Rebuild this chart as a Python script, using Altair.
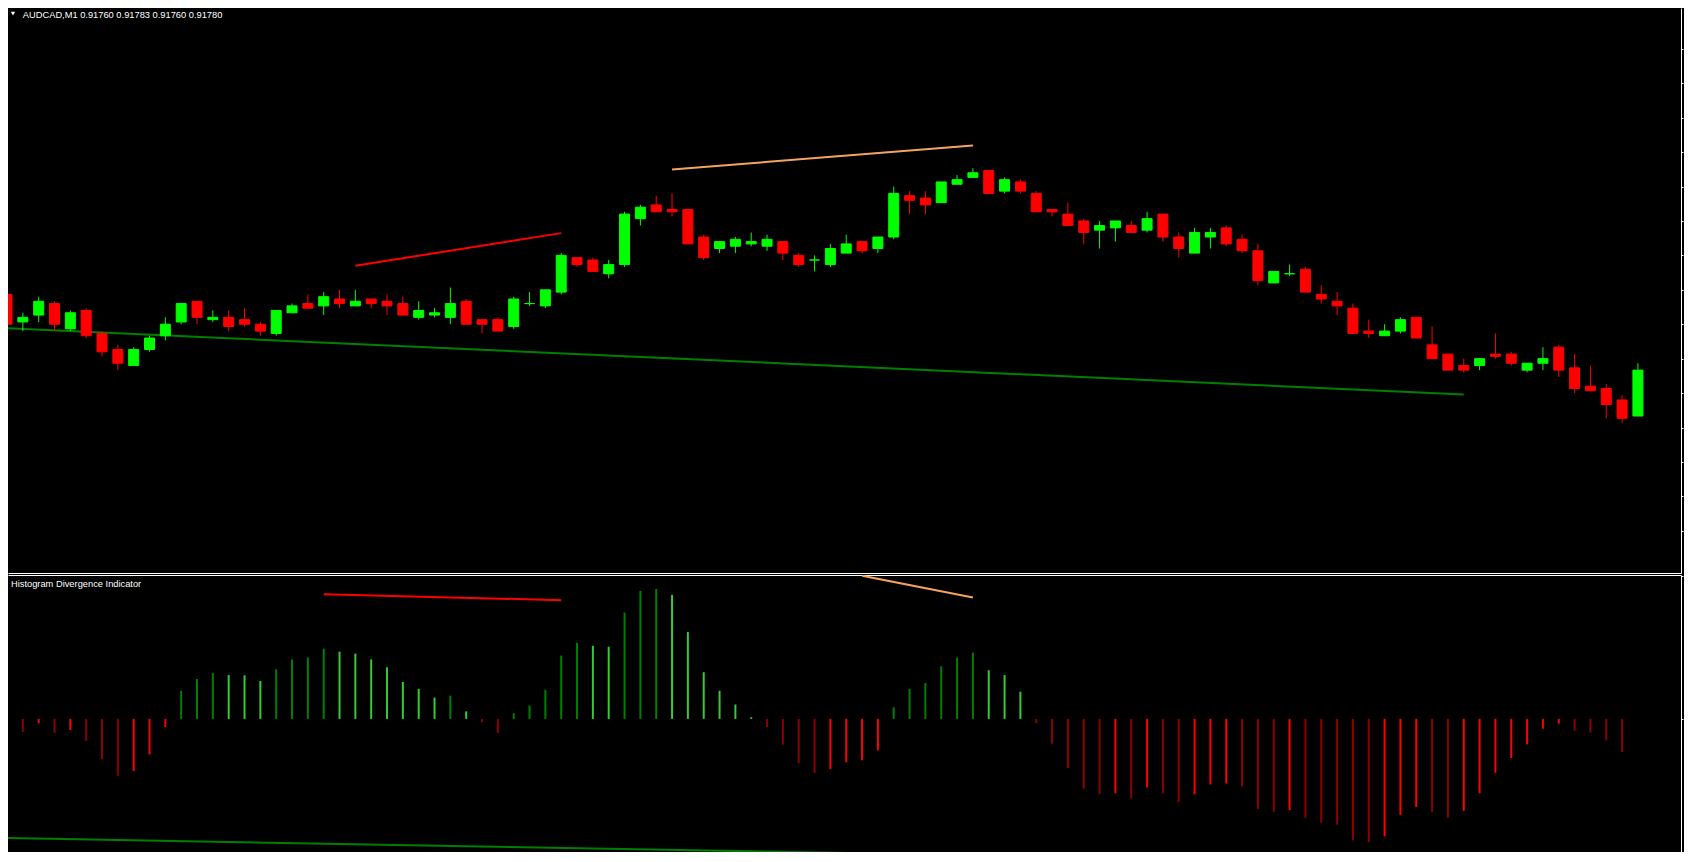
import altair as alt
import pandas as pd

# ---------------- data ----------------
SYMBOL_TITLE = "AUDCAD,M1  0.91760 0.91783 0.91760 0.91780"
INDICATOR_TITLE = "Histogram Divergence Indicator"

BASE_PRICE = 0.91760      # open of the last bar (title)
POINT = 0.00001

FIRST_BAR = -1            # first (partly visible) candle index

OPEN_PTS = [53, 41, 44, 49, 38, 46, 36, 29, 22, 29,
            35, 41, 50, 42, 43, 42, 40, 36, 45, 49,
            48, 51, 48, 51, 50, 49, 43, 44, 43, 50,
            42, 42, 39, 49, 48, 54, 69, 68, 62, 66,
            86, 92, 90, 90, 78, 73, 74, 75, 74, 76,
            70, 68, 66, 71, 76, 73, 78, 96, 95, 93,
            101, 104, 107, 98, 102, 97, 90, 88, 85, 81,
            82, 83, 81, 88, 78, 71, 78, 82, 77, 72,
            58, 62, 64, 53, 50, 47, 37, 35, 37, 43,
            31, 27, 22, 22, 27, 27, 20, 23, 30, 21,
            13, 12, 7, 0]
HIGH_PTS = [53, 45, 52, 50, 46, 47, 37, 31, 30, 35,
            43, 49, 50, 46, 46, 47, 41, 46, 49, 53,
            54, 55, 55, 51, 53, 52, 50, 47, 56, 51,
            42, 43, 52, 54, 55, 71, 69, 69, 68, 89,
            92, 96, 97, 90, 79, 76, 78, 80, 79, 76,
            71, 70, 75, 79, 76, 78, 100, 98, 98, 102,
            105, 108, 107, 104, 103, 98, 90, 93, 86, 85,
            85, 85, 89, 88, 80, 82, 82, 83, 79, 75,
            63, 66, 65, 57, 54, 49, 42, 40, 43, 43,
            39, 27, 25, 25, 36, 28, 23, 30, 31, 27,
            22, 14, 9, 23]
LOW_PTS = [40, 37, 41, 37, 37, 34, 26, 20, 22, 28,
           33, 40, 40, 41, 37, 39, 35, 35, 45, 47,
           44, 47, 48, 47, 44, 44, 42, 43, 40, 40,
           36, 37, 38, 48, 47, 53, 65, 63, 60, 65,
           83, 89, 87, 75, 68, 71, 71, 74, 72, 68,
           65, 63, 65, 71, 71, 71, 77, 88, 88, 93,
           101, 104, 97, 97, 97, 89, 87, 83, 75, 73,
           76, 80, 80, 76, 69, 71, 73, 74, 71, 57,
           58, 61, 54, 49, 44, 36, 34, 35, 36, 34,
           25, 20, 19, 20, 25, 22, 19, 20, 17, 10,
           11, -1, -3, 0]
CLOSE_PTS = [40, 43, 50, 40, 45, 35, 28, 23, 29, 34,
             40, 49, 43, 43, 39, 40, 37, 46, 48, 47,
             52, 49, 50, 49, 48, 44, 46, 45, 49, 40,
             40, 37, 51, 49, 55, 70, 66, 63, 66, 88,
             91, 89, 89, 75, 69, 76, 77, 76, 77, 71,
             66, 68, 73, 75, 72, 78, 97, 94, 92, 102,
             103, 106, 97, 103, 98, 89, 89, 83, 80, 83,
             85, 80, 86, 78, 73, 80, 80, 75, 72, 59,
             63, 62, 54, 51, 48, 36, 36, 37, 42, 34,
             25, 20, 20, 25, 26, 23, 23, 25, 20, 12,
             11, 5, -1, 20]

# histogram (bars 0..101)
HIST_FIRST_BAR = 0
HIST_VALUES = [-13.3, -4.3, -14.3, -11.3, -22.3, -41.3, -58.3, -53.3, -36.3, -8.3,
               28.7, 40.7, 46.7, 44.7, 44.5, 38.7, 50.7, 60.7, 62.7, 71.7,
               68.7, 66.7, 60.7, 52.7, 37.7, 30.7, 21.7, 23.7, 7.7, -3.3,
               -14.3, 5.7, 13.7, 29.7, 64.7, 77.7, 74.7, 73.7, 108.7, 130.7,
               132.7, 126.7, 88.7, 47.7, 28.7, 14.7, 1.7, -8.3, -26.3, -45.3,
               -55.3, -51.3, -44.3, -42.3, -32.3, 11.7, 30.7, 36.7, 53.7, 62.7,
               67.7, 49.7, 44.7, 27.7, -4.3, -25.3, -50.3, -71.3, -77.0, -76.0,
               -81.0, -70.0, -76.0, -85.0, -77.0, -67.0, -66.0, -69.0, -92.0, -95.0,
               -93.0, -101.0, -106.0, -108.0, -124.0, -126.0, -120.0, -98.0, -90.0, -95.0,
               -101.0, -94.0, -76.0, -55.0, -40.0, -26.0, -10.0, -5.0, -12.0, -14.0,
               -22.0, -34.0]

# trend lines on the price chart (bar index, points above BASE_PRICE)
RED_LINE_BARS = [21, 34]
RED_LINE_PTS = [65.5, 79.7]
ORANGE_LINE_BARS = [41, 60]
ORANGE_LINE_PTS = [107.4, 117.9]
GREEN_LINE_BARS = [-1, 91]
GREEN_LINE_PTS = [38.3, 9.4]

# trend lines on the indicator
HIST_RED_BARS = [19, 34]
HIST_RED_VALUES = [127.3, 121.3]
HIST_ORANGE_BARS = [53, 60]
HIST_ORANGE_VALUES = [146.3, 124.0]
HIST_GREEN_BARS = [-1, 91]
HIST_GREEN_VALUES = [-121.7, -148.2]

PRICE_TICKS = [0.91710, 0.91725, 0.91740, 0.91755, 0.91770, 0.91785, 0.91800,
               0.91815, 0.91830, 0.91845, 0.91860, 0.91875, 0.91890, 0.91905, 0.91920]
HIST_TICKS = [0, 146]

# ---------------- layout / styles ----------------
PLOT_W = 1673
MAIN_H = 565
HIST_H = 277
SX = PLOT_W / 1690.5
SY = 845 / 862

X_DOMAIN = [-0.9375, 104.72]
PRICE_DOMAIN = [BASE_PRICE - 68.4 * POINT, BASE_PRICE + 177.8 * POINT]
HIST_DOMAIN = [-136, 147]

BULL = "#00ff00"
BEAR = "#ff0000"
WHITE = "#ffffff"

# ---------------- tables ----------------
n = len(OPEN_PTS)
bars = list(range(FIRST_BAR, FIRST_BAR + n))
candles = pd.DataFrame({
    "bar": bars,
    "open": [BASE_PRICE + v * POINT for v in OPEN_PTS],
    "high": [BASE_PRICE + v * POINT for v in HIGH_PTS],
    "low": [BASE_PRICE + v * POINT for v in LOW_PTS],
    "close": [BASE_PRICE + v * POINT for v in CLOSE_PTS],
})
candles["dir"] = ["up" if c >= o else "down" for o, c in zip(OPEN_PTS, CLOSE_PTS)]

states = []
prev = 0.0
for v in HIST_VALUES:
    if v >= 0:
        states.append("pos_up" if v > prev else "pos_down")
    else:
        states.append("neg_down" if v < prev else "neg_up")
    prev = v
hist = pd.DataFrame({
    "bar": list(range(HIST_FIRST_BAR, HIST_FIRST_BAR + len(HIST_VALUES))),
    "value": HIST_VALUES,
    "base": [0.0] * len(HIST_VALUES),
    "state": states,
})


def line_df(bars_, pts, to_price=False):
    vals = [BASE_PRICE + p * POINT for p in pts] if to_price else list(pts)
    return pd.DataFrame({"bar": bars_, "v": vals})


# ---------------- scales / axes ----------------
x_scale = alt.Scale(domain=X_DOMAIN, nice=False, zero=False, padding=0)
price_scale = alt.Scale(domain=PRICE_DOMAIN, nice=False, zero=False)
hist_scale = alt.Scale(domain=HIST_DOMAIN, nice=False, zero=False)

x_axis_main = alt.Axis(orient="bottom", domain=True, domainColor=WHITE, domainWidth=1,
                       ticks=False, labels=False, grid=False, title=None)
x_axis_hist = alt.Axis(orient="top", domain=True, domainColor=WHITE, domainWidth=1,
                       ticks=False, labels=False, grid=False, title=None)
y_axis_main = alt.Axis(orient="right", domain=True, domainColor=WHITE, domainWidth=1,
                       ticks=True, tickColor=WHITE, tickSize=2, tickWidth=1,
                       values=PRICE_TICKS, labels=False, grid=False, title=None)
y_axis_hist = alt.Axis(orient="right", domain=True, domainColor=WHITE, domainWidth=1,
                       ticks=True, tickColor=WHITE, tickSize=2, tickWidth=1,
                       values=HIST_TICKS, labels=False, grid=False, title=None)

X = alt.X("bar:Q", scale=x_scale, axis=x_axis_main)
XH = alt.X("bar:Q", scale=x_scale, axis=x_axis_hist)
dir_scale = alt.Scale(domain=["up", "down"], range=[BULL, BEAR])

# ---------------- price panel ----------------
wicks = alt.Chart(candles).mark_rule(strokeWidth=1, clip=True).encode(
    x=X,
    y=alt.Y("low:Q", scale=price_scale, axis=y_axis_main),
    y2="high:Q",
    color=alt.Color("dir:N", scale=dir_scale, legend=None),
)
bodies = alt.Chart(candles).mark_bar(size=10 * SX + 0.1, strokeWidth=1, clip=True).encode(
    x=X,
    y=alt.Y("open:Q", scale=price_scale, axis=y_axis_main),
    y2="close:Q",
    color=alt.Color("dir:N", scale=dir_scale, legend=None),
    stroke=alt.Stroke("dir:N", scale=dir_scale, legend=None),
)


def price_line(bars_, pts, color):
    return alt.Chart(line_df(bars_, pts, True)).mark_line(
        color=color, strokeWidth=2, clip=True).encode(
        x=X, y=alt.Y("v:Q", scale=price_scale, axis=y_axis_main))


red_line = price_line(RED_LINE_BARS, RED_LINE_PTS, "#ff0000")
orange_line = price_line(ORANGE_LINE_BARS, ORANGE_LINE_PTS, "#f4a460")
green_line = price_line(GREEN_LINE_BARS, GREEN_LINE_PTS, "#008000")

title_text = alt.Chart(pd.DataFrame({"t": [SYMBOL_TITLE]})).mark_text(
    align="left", baseline="alphabetic", font="Liberation Sans", fontSize=9.3,
    color=WHITE).encode(text="t:N", x=alt.value(15 * SX), y=alt.value(10.7 * SY))
triangle = alt.Chart(pd.DataFrame({"t": ["menu"]})).mark_point(
    shape="triangle-down", filled=True, color=WHITE, size=18, opacity=1).encode(
    x=alt.value(5), y=alt.value(5.8 * SY))

main = alt.layer(green_line, red_line, orange_line, wicks, bodies,
                 title_text, triangle).properties(width=PLOT_W, height=MAIN_H)

# ---------------- indicator panel ----------------
state_scale = alt.Scale(domain=["pos_up", "pos_down", "neg_down", "neg_up"],
                        range=["#008000", "#32cd32", "#8b0000", "#ff0000"])
hist_bars = alt.Chart(hist).mark_rule(strokeWidth=2, clip=True).encode(
    x=XH,
    y=alt.Y("base:Q", scale=hist_scale, axis=y_axis_hist),
    y2="value:Q",
    color=alt.Color("state:N", scale=state_scale, legend=None),
)


def hist_line(bars_, vals, color):
    return alt.Chart(line_df(bars_, vals)).mark_line(
        color=color, strokeWidth=2, clip=True).encode(
        x=XH, y=alt.Y("v:Q", scale=hist_scale, axis=y_axis_hist))


hist_red = hist_line(HIST_RED_BARS, HIST_RED_VALUES, "#ff0000")
hist_orange = hist_line(HIST_ORANGE_BARS, HIST_ORANGE_VALUES, "#f4a460")
hist_green = hist_line(HIST_GREEN_BARS, HIST_GREEN_VALUES, "#008000")

hist_title = alt.Chart(pd.DataFrame({"t": [INDICATOR_TITLE]})).mark_text(
    align="left", baseline="alphabetic", font="Liberation Sans", fontSize=9.3,
    color=WHITE).encode(text="t:N", x=alt.value(3), y=alt.value(12 * SY))

indicator = alt.layer(hist_bars, hist_red, hist_orange, hist_green,
                      hist_title).properties(width=PLOT_W, height=HIST_H)

chart = alt.vconcat(main, indicator, spacing=2).resolve_scale(
    color="independent", stroke="independent"
).properties(
    padding=0, background="#000000"
).configure_view(stroke=None)

chart.save("out.html", embed_options={"renderer": "svg", "actions": False})
